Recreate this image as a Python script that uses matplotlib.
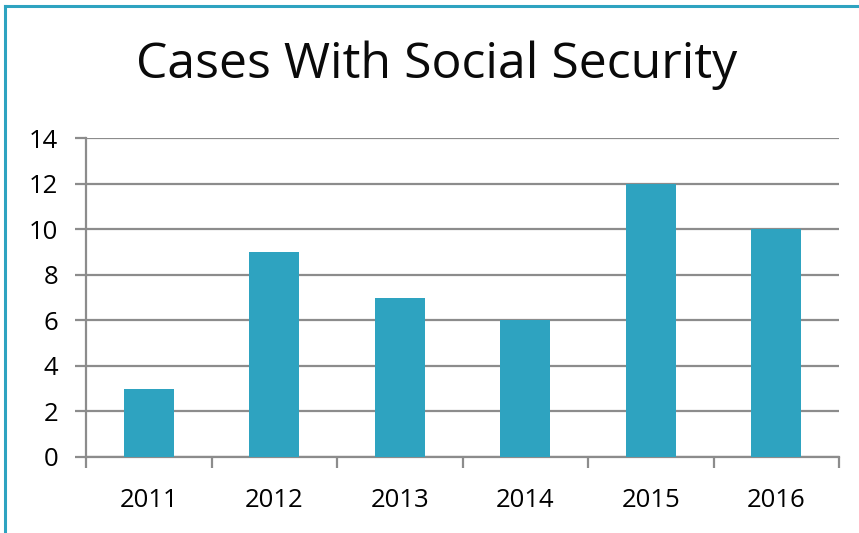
import matplotlib
matplotlib.use("Agg")
import matplotlib.pyplot as plt
from matplotlib.lines import Line2D

years = ["2011", "2012", "2013", "2014", "2015", "2016"]
cases = [3, 9, 7, 6, 12, 10]
y_ticks = [0, 2, 4, 6, 8, 10, 12, 14]

bar_color = "#2ea3c0"
grid_color = "#8c8c8c"

plt.rcParams["font.family"] = ["Open Sans", "DejaVu Sans"]

fig = plt.figure(figsize=(8.59, 5.33), dpi=100)
ax = fig.add_axes([86 / 859, 1 - 457 / 533, (839 - 86) / 859, (457 - 138) / 533])

x = list(range(len(years)))
ax.bar(x, cases, width=0.4, color=bar_color, zorder=3)

ax.set_xlim(-0.5, len(years) - 0.5)
ax.set_ylim(0, 14)
ax.set_yticks(y_ticks)
ax.set_yticklabels([str(v) for v in y_ticks], fontsize=18.5)
ax.yaxis.grid(True, color=grid_color, linewidth=1.6, zorder=0)
ax.set_axisbelow(True)

# category labels centred under bars, tick marks at category boundaries
ax.set_xticks(x)
ax.set_xticklabels(years, fontsize=18.5)
ax.tick_params(axis="x", length=0, pad=22)
ax.set_xticks([i - 0.5 for i in range(len(years) + 1)], minor=True)
ax.tick_params(axis="x", which="minor", length=8, width=1.6, color=grid_color)
ax.tick_params(axis="y", length=8, width=1.6, color=grid_color, pad=12)

for side in ["top", "right"]:
    ax.spines[side].set_visible(False)
for side in ["left", "bottom"]:
    ax.spines[side].set_color(grid_color)
    ax.spines[side].set_linewidth(1.6)

fig.text(437 / 859, 1 - 65 / 533, "Cases With Social Security",
         ha="center", va="center", fontsize=36, fontweight="medium", color="#0a0a0a")

# frame edges along the top and left of the figure
fig.add_artist(Line2D([5 / 859, 1], [1 - 6 / 533, 1 - 6 / 533],
                      transform=fig.transFigure, color=bar_color, linewidth=2.2))
fig.add_artist(Line2D([5 / 859, 5 / 859], [0, 1 - 6 / 533],
                      transform=fig.transFigure, color=bar_color, linewidth=2.2))

fig.savefig("out.png", dpi=100)
